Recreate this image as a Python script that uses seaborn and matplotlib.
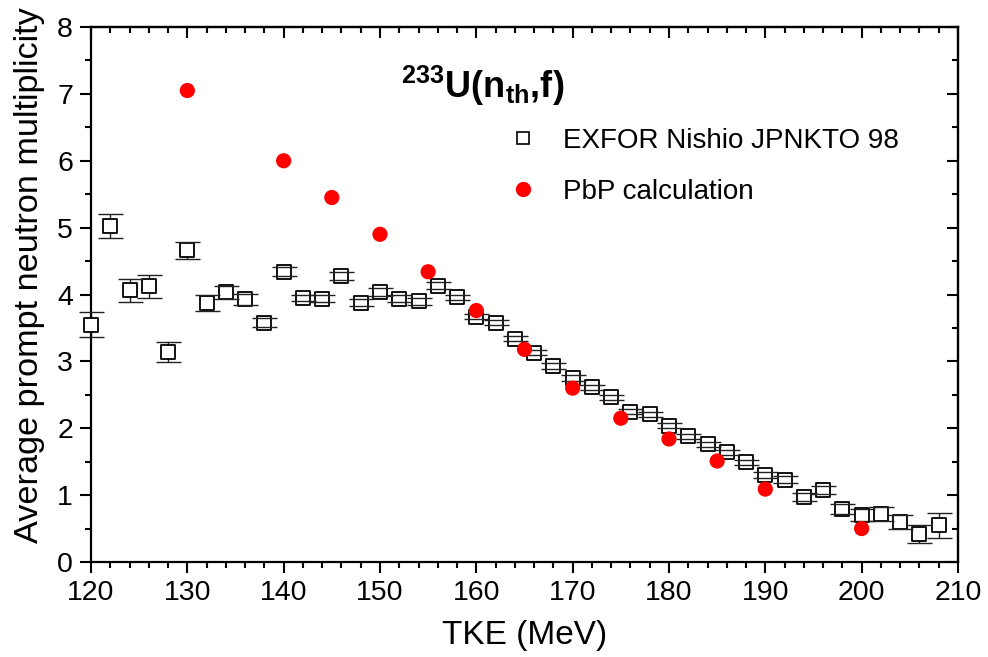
import matplotlib
matplotlib.use("Agg")
import matplotlib.pyplot as plt
from matplotlib.lines import Line2D
from matplotlib.ticker import MultipleLocator
import numpy as np
import pandas as pd
import seaborn as sns

# Measured prompt neutron multiplicity vs total kinetic energy (EXFOR, Nishio 1998)
tke_exp = [120, 122, 124, 126, 128, 130, 132, 134, 136, 138,
           140, 142, 144, 146, 148, 150, 152, 154, 156, 158,
           160, 162, 164, 166, 168, 170, 172, 174, 176, 178,
           180, 182, 184, 186, 188, 190, 192, 194, 196, 198,
           200, 202, 204, 206, 208]
nu_exp = [3.55, 5.03, 4.06, 4.12, 3.14, 4.66, 3.87, 4.03, 3.93, 3.58,
          4.34, 3.95, 3.94, 4.28, 3.88, 4.04, 3.94, 3.90, 4.13, 3.96,
          3.67, 3.58, 3.34, 3.13, 2.93, 2.75, 2.61, 2.46, 2.25, 2.21,
          2.04, 1.88, 1.76, 1.64, 1.49, 1.30, 1.23, 0.97, 1.08, 0.79,
          0.70, 0.72, 0.60, 0.42, 0.55]
err_exp = [0.19, 0.18, 0.165, 0.165, 0.155, 0.13, 0.12, 0.10, 0.08, 0.07,
           0.07, 0.05, 0.05, 0.06, 0.05, 0.06, 0.05, 0.05, 0.05, 0.04,
           0.04, 0.04, 0.04, 0.04, 0.04, 0.04, 0.04, 0.04, 0.04, 0.04,
           0.04, 0.04, 0.04, 0.04, 0.04, 0.05, 0.05, 0.06, 0.06, 0.07,
           0.09, 0.10, 0.11, 0.13, 0.19]

# Point-by-point model calculation
tke_pbp = [130, 140, 145, 150, 155, 160, 165, 170, 175, 180, 185, 190, 200]
nu_pbp = [7.05, 6.00, 5.45, 4.90, 4.34, 3.76, 3.18, 2.60, 2.15, 1.84, 1.51, 1.09, 0.50]

exp_df = pd.DataFrame({"TKE": tke_exp, "nu": nu_exp, "err": err_exp})
pbp_df = pd.DataFrame({"TKE": tke_pbp, "nu": nu_pbp})

sns.set_theme(style="ticks")
plt.rcParams["font.family"] = ["Liberation Sans", "DejaVu Sans"]
plt.rcParams["text.color"] = "black"
plt.rcParams["axes.labelcolor"] = "black"
plt.rcParams["xtick.color"] = "black"
plt.rcParams["ytick.color"] = "black"
plt.rcParams["mathtext.fontset"] = "custom"
plt.rcParams["mathtext.rm"] = "Liberation Sans"
plt.rcParams["mathtext.bf"] = "Liberation Sans:bold"
plt.rcParams["mathtext.it"] = "Liberation Sans:italic"

fig = plt.figure(figsize=(9.88, 6.57), dpi=100)
ax = fig.add_axes([0.0921, 0.1446, 0.8775, 0.8143])

# error bars: vertical bar hidden under the open squares, caps drawn above them
eb = ax.errorbar(exp_df["TKE"], exp_df["nu"], yerr=exp_df["err"], fmt="none",
                 ecolor="#222222", elinewidth=1.0, capsize=9, capthick=1.0)
for c in eb[1]:
    c.set_zorder(4)
    c.set_clip_on(False)
for b in eb[2]:
    b.set_zorder(2)
    b.set_clip_on(False)

sns.scatterplot(data=exp_df, x="TKE", y="nu", ax=ax, marker="s", s=90,
                facecolor="white", edgecolor="black", linewidth=1.3,
                zorder=3, legend=False, clip_on=False)
sns.scatterplot(data=pbp_df, x="TKE", y="nu", ax=ax, marker="o", s=120,
                color="#ff0000", edgecolor="none", linewidth=0,
                zorder=5, legend=False, clip_on=False)

ax.set_xlim(120, 210)
ax.set_ylim(0, 8)
ax.xaxis.set_major_locator(MultipleLocator(10))
ax.xaxis.set_minor_locator(MultipleLocator(2))
ax.yaxis.set_major_locator(MultipleLocator(1))
ax.yaxis.set_minor_locator(MultipleLocator(0.5))
ax.tick_params(which="both", direction="out", width=1.5, colors="black",
               labelsize=20.5, pad=5)
ax.tick_params(which="major", length=8)
ax.tick_params(which="minor", length=4.5)
for sp in ax.spines.values():
    sp.set_linewidth(1.6)
    sp.set_color("black")
    sp.set_visible(True)

# mirrored inward ticks on the top and right frame
top = ax.secondary_xaxis("top")
top.xaxis.set_major_locator(MultipleLocator(10))
top.xaxis.set_minor_locator(MultipleLocator(2))
top.tick_params(which="both", direction="in", width=1.5, labeltop=False)
top.tick_params(which="major", length=8)
top.tick_params(which="minor", length=4.5)
right = ax.secondary_yaxis("right")
right.yaxis.set_major_locator(MultipleLocator(1))
right.yaxis.set_minor_locator(MultipleLocator(0.5))
right.tick_params(which="both", direction="in", width=1.5, labelright=False)
right.tick_params(which="major", length=8)
right.tick_params(which="minor", length=4.5)
for sec in (top, right):
    for sp in sec.spines.values():
        sp.set_linewidth(1.6)

ax.set_xlabel("TKE (MeV)", fontsize=24, labelpad=10)
ax.set_ylabel("Average prompt neutron multiplicity", fontsize=24.7)
ax.yaxis.set_label_coords(-0.053, 0.536)

ax.text(0.452, 0.867, r"$\mathbf{^{233}U(n_{th}{,}f)}$", transform=ax.transAxes,
        ha="center", va="baseline", fontsize=26)

handles = [
    Line2D([], [], linestyle="none", marker="s", markersize=9,
           markerfacecolor="white", markeredgecolor="black", markeredgewidth=1.2),
    Line2D([], [], linestyle="none", marker="o", markersize=11,
           markerfacecolor="#ff0000", markeredgecolor="none"),
]
ax.legend(handles, ["EXFOR Nishio JPNKTO 98", "PbP calculation"],
          loc="upper left", bbox_to_anchor=(0.482, 0.811), frameon=False,
          fontsize=20, handlelength=1.0, handletextpad=0.94,
          labelspacing=0.9, borderpad=0, borderaxespad=0)

fig.savefig("out.png", dpi=100)
